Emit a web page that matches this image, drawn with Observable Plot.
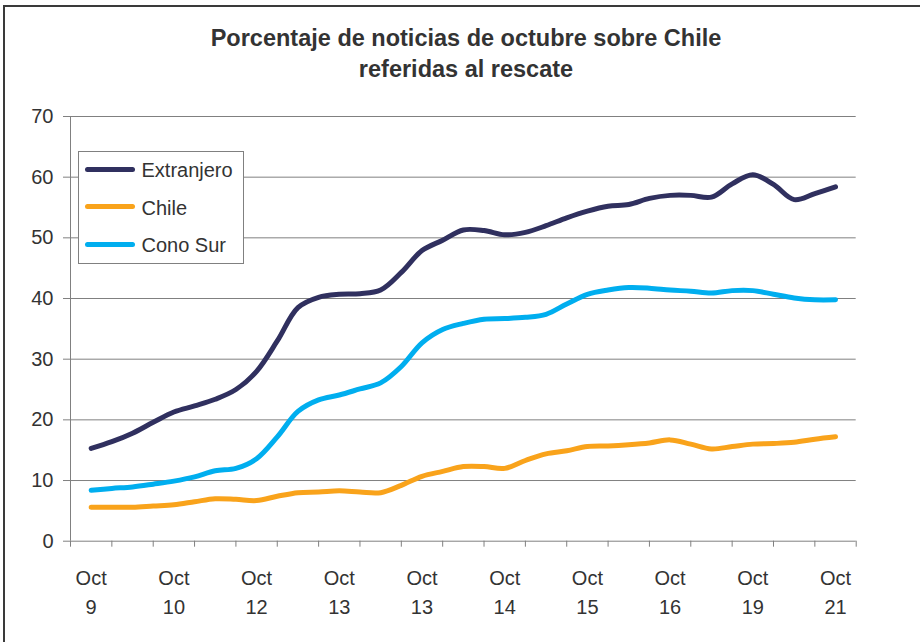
<!DOCTYPE html>
<html>
<head>
<meta charset="utf-8">
<script src="https://cdn.jsdelivr.net/npm/d3@7"></script>
<script src="https://cdn.jsdelivr.net/npm/@observablehq/plot@0.6"></script>
<style>
  body { margin: 0; background: #fff; font-family: "Liberation Sans", Arial, sans-serif; }
  #wrap { position: relative; width: 920px; height: 642px; overflow: hidden; background: #fff; }
  #frame { position: absolute; left: 3px; top: 5px; width: 940px; height: 660px;
           border-top: 2px solid #3a3a3a; border-left: 2px solid #3a3a3a; box-sizing: border-box; }
  #title { position: absolute; left: 0; top: 22.8px; width: 932px; text-align: center;
           font-weight: bold; font-size: 23.5px; line-height: 31.6px; color: #333; }
  #chart { position: absolute; left: 0; top: 100px; }
  #legend { position: absolute; left: 78px; top: 151px; width: 166px; height: 113px;
            border: 1px solid #808080; background: #fff; box-sizing: border-box; }
  .sw { position: absolute; left: 85px; width: 50px; height: 5px; border-radius: 2.5px; }
  .lt { position: absolute; left: 141.5px; font-size: 20px; line-height: 20px; color: #333; white-space: nowrap; }
</style>
</head>
<body>
<div id="wrap">
  <div id="frame"></div>
  <div id="title">Porcentaje de noticias de octubre sobre Chile<br>referidas al rescate</div>
  <div id="chart"></div>
  <div id="legend"></div>
</div>
<script>
// ---- data ----
const dayLabels = ["9", "10", "12", "13", "13", "14", "15", "16", "19", "21"];
const seriesNames = ["Extranjero", "Chile", "Cono Sur"];
const seriesColors = ["#30305f", "#f9a31b", "#00aeef"];
const extranjero = [15.3, 16.4, 17.8, 19.6, 21.3, 22.3, 23.4, 25.0, 28.0, 33.0,
                    38.5, 40.2, 40.7, 40.8, 41.4, 44.3, 47.9, 49.6, 51.3, 51.2,
                    50.5, 50.9, 52.0, 53.3, 54.4, 55.2, 55.5, 56.5, 57.0, 57.0,
                    56.7, 58.9, 60.4, 58.8, 56.3, 57.3, 58.4];
const chile = [5.6, 5.6, 5.6, 5.8, 6.0, 6.5, 7.0, 6.9, 6.7, 7.4,
               8.0, 8.1, 8.3, 8.1, 8.0, 9.2, 10.7, 11.5, 12.3, 12.3,
               12.0, 13.3, 14.4, 14.9, 15.6, 15.7, 15.9, 16.2, 16.7, 16.0,
               15.2, 15.6, 16.0, 16.1, 16.3, 16.8, 17.2];
const conoSur = [8.4, 8.7, 8.95, 9.4, 9.9, 10.6, 11.6, 12.0, 13.6, 17.2,
                 21.4, 23.3, 24.1, 25.1, 26.1, 28.8, 32.7, 34.9, 35.9, 36.6,
                 36.7, 36.9, 37.4, 39.1, 40.7, 41.4, 41.8, 41.7, 41.4, 41.2,
                 40.9, 41.3, 41.3, 40.7, 40.1, 39.8, 39.8];
const yTicks = [0, 10, 20, 30, 40, 50, 60, 70];

// ---- build table ----
const allSeries = [extranjero, chile, conoSur];
const rows = [];
allSeries.forEach((vals, s) => vals.forEach((v, i) => rows.push({i, v, s: seriesNames[s]})));
const n = extranjero.length;
const tickPos = d3.range(-1, n + 1, 2);               // minor ticks between label groups
const labelPos = dayLabels.map((_, k) => k * 4);      // one label every 4 points

const font = '"Liberation Sans", Arial, sans-serif';
const plot = Plot.plot({
  width: 920,
  height: 542,
  marginLeft: 70,
  marginRight: 64.3,
  marginTop: 16,
  marginBottom: 101.3,
  style: {fontFamily: font, background: "transparent", overflow: "visible"},
  x: {domain: [-1, n], label: null},
  y: {domain: [0, 70], label: null},
  marks: [
    Plot.gridY(yTicks.slice(1), {stroke: "#808080", strokeOpacity: 1}),
    Plot.ruleY([0], {stroke: "#808080"}),
    Plot.ruleX([-1], {stroke: "#808080"}),
    Plot.axisY({ticks: yTicks, tickSize: 7, tickPadding: 10, fontSize: 20, fill: "#333", stroke: "#808080", label: null}),
    Plot.axisX({ticks: tickPos, tickSize: 6, tickFormat: () => "", stroke: "#808080", label: null}),
    Plot.axisX({ticks: labelPos, tickSize: 0, tickPadding: 23, fontSize: 20, lineHeight: 1.47, fill: "#333",
                tickFormat: (d) => "Oct\n" + dayLabels[d / 4], label: null}),
    ...seriesNames.map((name, s) => Plot.line(rows.filter(r => r.s === name), {
      x: "i", y: "v", stroke: seriesColors[s], strokeWidth: 5, curve: "catmull-rom",
      strokeLinecap: "round", strokeLinejoin: "round"
    }))
  ]
});
document.getElementById("chart").appendChild(plot);

// ---- legend ----
const wrap = document.getElementById("wrap");
const centers = [169, 206.7, 244.3];
seriesNames.forEach((name, s) => {
  const sw = document.createElement("div");
  sw.className = "sw";
  sw.style.top = (centers[s] - 2.5) + "px";
  sw.style.background = seriesColors[s];
  wrap.appendChild(sw);
  const t = document.createElement("div");
  t.className = "lt";
  t.style.top = (centers[s] - 9.2) + "px";
  t.textContent = name;
  wrap.appendChild(t);
});
</script>
</body>
</html>
